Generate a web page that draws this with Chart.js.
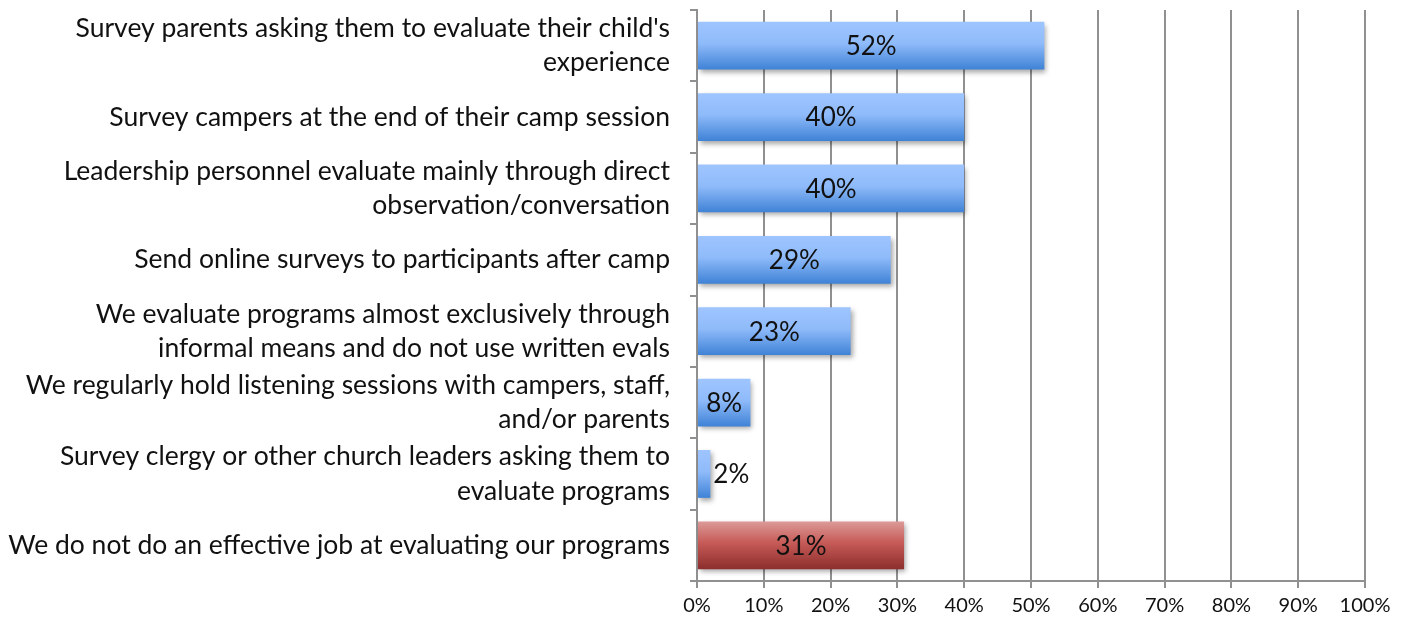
<!DOCTYPE html>
<html>
<head>
<meta charset="utf-8">
<script src="https://cdn.jsdelivr.net/npm/chart.js@4/dist/chart.umd.min.js"></script>
<style>
  html, body { margin: 0; padding: 0; background: #fff; }
  #wrap { width: 1407px; height: 622px; }
</style>
</head>
<body>
<div id="wrap"><canvas id="c" width="1407" height="622"></canvas></div>
<script>
const categories = [
  ["Survey parents asking them to evaluate their child's", "experience"],
  "Survey campers at the end of their camp session",
  ["Leadership personnel evaluate mainly through direct", "observation/conversation"],
  "Send online surveys to participants after camp",
  ["We evaluate programs almost exclusively through", "informal means and do not use written evals"],
  ["We regularly hold listening sessions with campers, staff,", "and/or parents"],
  ["Survey clergy or other church leaders asking them to", "evaluate programs"],
  "We do not do an effective job at evaluating our programs"
];
const percentValues = [52, 40, 40, 29, 23, 8, 2, 31];
const tickValues = [0, 10, 20, 30, 40, 50, 60, 70, 80, 90, 100];

const FONT = "Lato, 'Open Sans', sans-serif";
const BAR_FRAC = 0.67;
const highlightIndex = categories.length - 1;

function barGradient(ctx) {
  const chart = ctx.chart;
  const y = chart.scales && chart.scales.y;
  const isRed = ctx.dataIndex === highlightIndex;
  if (!y || !chart.chartArea) return isRed ? '#c0504d' : '#6fa6f0';
  const c = y.getPixelForValue(ctx.dataIndex);
  const half = (y.height / categories.length) * BAR_FRAC / 2;
  const g = chart.ctx.createLinearGradient(0, c - half, 0, c + half);
  if (isRed) {
    g.addColorStop(0, '#dc9a98');
    g.addColorStop(0.45, '#c65a57');
    g.addColorStop(1, '#8c2e2c');
  } else {
    g.addColorStop(0, '#9fc5ff');
    g.addColorStop(0.45, '#8fbbfa');
    g.addColorStop(1, '#3f82d6');
  }
  return g;
}

const shadowPlugin = {
  id: 'barShadow',
  beforeDatasetsDraw(chart) {
    const ctx = chart.ctx;
    ctx.save();
    ctx.shadowColor = 'rgba(0,0,0,0.35)';
    ctx.shadowOffsetX = 2;
    ctx.shadowOffsetY = 3;
    ctx.shadowBlur = 5;
  },
  afterDatasetsDraw(chart) {
    chart.ctx.restore();
  }
};

const labelPlugin = {
  id: 'valueLabels',
  afterDraw(chart) {
    const ctx = chart.ctx;
    const meta = chart.getDatasetMeta(0);
    ctx.save();
    ctx.font = "26px " + FONT;
    ctx.fillStyle = '#111';
    ctx.textBaseline = 'middle';
    meta.data.forEach((bar, i) => {
      const txt = percentValues[i] + '%';
      const w = ctx.measureText(txt).width;
      const barW = bar.x - bar.base;
      if (barW > w + 10) {
        ctx.textAlign = 'center';
        ctx.fillText(txt, (bar.x + bar.base) / 2, bar.y + 1);
      } else {
        ctx.textAlign = 'left';
        ctx.fillText(txt, bar.x + 3, bar.y + 1);
      }
    });
    ctx.restore();
  }
};

new Chart(document.getElementById('c'), {
  type: 'bar',
  data: {
    labels: categories,
    datasets: [{
      data: percentValues,
      backgroundColor: barGradient,
      borderWidth: 0,
      barPercentage: BAR_FRAC,
      categoryPercentage: 1.0
    }]
  },
  options: {
    indexAxis: 'y',
    responsive: false,
    animation: false,
    layout: { padding: { top: 10, right: 42, bottom: 0, left: 0 } },
    plugins: { legend: { display: false }, tooltip: { enabled: false } },
    scales: {
      x: {
        min: 0, max: 100,
        afterBuildTicks(scale) { scale.ticks = tickValues.map(v => ({ value: v })); },
        afterFit(scale) { scale.height = 41; scale.paddingLeft = 0; scale.paddingRight = 0; },
        ticks: {
          callback: (v) => v + '%',
          font: { family: FONT, size: 20 },
          color: '#111',
          padding: 6,
          maxRotation: 0
        },
        grid: { color: '#909090', lineWidth: 2, tickLength: 7, drawTicks: true },
        border: { color: '#909090', width: 2 }
      },
      y: {
        afterFit(scale) { scale.width = 697; scale.paddingTop = 0; scale.paddingBottom = 0; },
        ticks: {
          font: { family: FONT, size: 26.5, lineHeight: 1.3 },
          color: '#111',
          padding: 20,
          autoSkip: false
        },
        grid: { offset: true, drawOnChartArea: false, color: '#909090', lineWidth: 2, tickLength: 7 },
        border: { color: '#909090', width: 2 }
      }
    }
  },
  plugins: [shadowPlugin, labelPlugin]
});
</script>
</body>
</html>
